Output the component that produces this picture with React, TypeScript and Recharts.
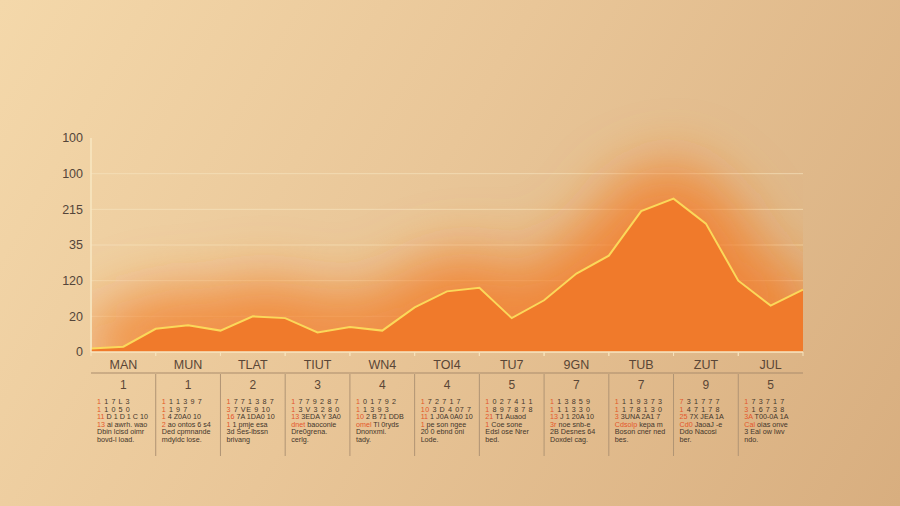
import { AreaChart, Area, XAxis, YAxis, CartesianGrid } from "recharts";

// series values, one point every half column
const values = [2, 3, 13, 15, 12, 20, 19, 11, 14, 12, 25, 34, 36, 19, 29, 44, 54, 79, 86, 72, 40, 26, 35];

// y tick labels as printed (bottom to top)
const yLabels = ["0", "20", "120", "35", "215", "100", "100"];
const yTicks = [0, 20, 40, 60, 80, 100, 120];

// table under the chart
const months = ["MAN", "MUN", "TLAT", "TIUT", "WN4", "TOI4", "TU7", "9GN", "TUB", "ZUT", "JUL"];
const dayNumbers = ["1", "1", "2", "3", "4", "4", "5", "7", "7", "9", "5"];
const calendarRows = [
  ["1 1 7 L 3", "1 1 0 5 0", "11 D 1 D 1 C 10", "13 ai awrh. wao", "Dbin lcisd oimr", "bovd-l load."],
  ["1 1 1 3 9 7", "1 1 9 7", "1 4 Z0A0 10", "2 ao ontos 6 s4", "Ded cpmnande", "mdyldc lose."],
  ["1 7 7 1 3 8 7", "3 7 VE 9 10", "16 7A 1DA0 10", "1 1 pmje esa", "3d Ses-lbssn", "brivang"],
  ["1 7 7 9 2 8 7", "1 3 V 3 2 8 0", "13 3EDA Y 3A0", "dnet baoconie", "Dre0grena.", "cerlg."],
  ["1 0 1 7 9 2", "1 1 3 9 3", "10 2 B 71 DDB", "omel Tl 0ryds", "Dnonxmi.", "tady."],
  ["1 7 2 7 1 7", "10 3 D 4 07 7", "11 1 J0A 0A0 10", "1 pe son ngee", "20 0 ebnd oni", "Lode."],
  ["1 0 2 7 4 1 1", "1 8 9 7 8 7 8", "21 T1 Auaod", "1 Coe sone", "Edsl ose Nrer", "bed."],
  ["1 1 3 8 5 9", "1 1 1 3 3 0", "13 J 1 20A 10", "3r noe snb-e", "2B Desnes 64", "Doxdel cag."],
  ["1 1 1 9 3 7 3", "1 1 7 8 1 3 0", "3 3UNA 2A1 7", "Cdsolp kepa m", "Boson cner ned", "bes."],
  ["7 3 1 7 7 7", "1 4 7 1 7 8", "25 7X JEA 1A", "Cd0 JaoaJ -e", "Ddo Nacosi", "ber."],
  ["1 7 3 7 1 7", "3 1 6 7 3 8", "3A T00-0A 1A", "Cal oias onve", "3 Eal ow Iwv", "ndo."],
];

const data = values.map((v, i) => ({ i, v }));
const colTicks = months.map((_, c) => c * 2 + 1);

const PLOT_LEFT = 91;
const PLOT_RIGHT = 803;
const PLOT_TOP = 138;
const PLOT_BOTTOM = 352;
const COL_W = (PLOT_RIGHT - PLOT_LEFT) / months.length;
const FONT = "'Liberation Sans', Arial, sans-serif";

function TableTick(props: any) {
  const { x, payload } = props;
  const c = (payload.value - 1) / 2;
  const left = x - COL_W / 2;
  const y0 = PLOT_BOTTOM;
  return (
    <g>
      <line x1={left} x2={left} y1={y0} y2={y0 + 4} stroke="#f6e2bb" />
      <line x1={left + COL_W} x2={left + COL_W} y1={y0} y2={y0 + 4} stroke="#f6e2bb" />
      <text x={x} y={y0 + 17} textAnchor="middle" fontSize={12.5} fill="#5a4636" fontFamily={FONT}>
        {months[c]}
      </text>
      <line x1={left} x2={left + COL_W} y1={y0 + 21} y2={y0 + 21} stroke="#a98c6c" strokeWidth={1.2} />
      {c < months.length - 1 && (
        <line x1={left + COL_W} x2={left + COL_W} y1={y0 + 22} y2={y0 + 104} stroke="#b09474" />
      )}
      <text x={x} y={y0 + 37} textAnchor="middle" fontSize={12} fill="#5a4636" fontFamily={FONT}>
        {dayNumbers[c]}
      </text>
      {calendarRows[c].map((row, r) => {
        const [first, ...rest] = row.split(" ");
        return (
          <text
            key={r}
            x={left + 6}
            y={y0 + 52 + r * 7.6}
            fontSize={7.2}
            letterSpacing={r < 2 ? 0.6 : 0}
            fill="#44362b"
            fontFamily={FONT}
          >
            <tspan fill={r < 4 ? "#e4562a" : "#44362b"}>{first}</tspan>
            {rest.length ? " " + rest.join(" ") : ""}
          </text>
        );
      })}
    </g>
  );
}

export default function App() {
  return (
    <div
      style={{
        position: "fixed",
        left: 0,
        top: 0,
        width: 900,
        height: 506,
        background: "linear-gradient(120deg, #f4d8aa 0%, #e9c698 45%, #d8ae7f 100%)",
      }}
    >
      <AreaChart
        width={900}
        height={506}
        data={data}
        margin={{ top: PLOT_TOP, right: 900 - PLOT_RIGHT, left: PLOT_LEFT - 60, bottom: 0 }}
      >
        <defs>
          {/* filter region doubles as a clip to the plot box */}
          <filter
            id="glow"
            filterUnits="userSpaceOnUse"
            x={PLOT_LEFT + 1}
            y={0}
            width={PLOT_RIGHT - PLOT_LEFT - 1}
            height={PLOT_BOTTOM - 1}
          >
            <feGaussianBlur stdDeviation="28" />
          </filter>
        </defs>
        <CartesianGrid
          vertical={false}
          horizontalValues={[20, 40, 60, 80, 100]}
          stroke="#f6e3bd"
          strokeOpacity={0.7}
        />
        <XAxis
          dataKey="i"
          type="number"
          domain={[0, 22]}
          ticks={colTicks}
          interval={0}
          height={506 - PLOT_BOTTOM}
          tickLine={false}
          axisLine={{ stroke: "#f8e7c2", strokeWidth: 1.5 }}
          tick={<TableTick />}
        />
        <YAxis
          width={60}
          domain={[0, 120]}
          ticks={yTicks}
          tickLine={false}
          axisLine={{ stroke: "#f8e7c2", strokeWidth: 1.5 }}
          tickFormatter={(v: number) => yLabels[v / 20]}
          tick={{ fill: "#54453a", fontSize: 12.5, fontFamily: FONT }}
        />
        <Area
          dataKey="v"
          type="linear"
          fill="#f27a22"
          fillOpacity={0.8}
          stroke="#f27a22"
          strokeOpacity={0.65}
          strokeWidth={75}
          filter="url(#glow)"
          isAnimationActive={false}
          activeDot={false}
        />
        <Area
          dataKey="v"
          type="linear"
          fill="#f07a2b"
          fillOpacity={1}
          stroke="#fbd85a"
          strokeWidth={2}
          isAnimationActive={false}
          activeDot={false}
        />
      </AreaChart>
    </div>
  );
}
